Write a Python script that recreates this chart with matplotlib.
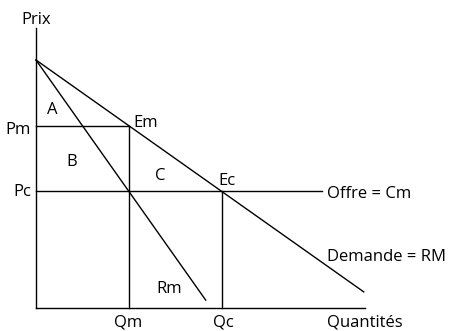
import matplotlib
matplotlib.use("Agg")
import matplotlib.pyplot as plt

plt.rcParams['font.family'] = ['Open Sans', 'DejaVu Sans']

# Market values (arbitrary units)
prix_max = 10.0          # demand intercept
q_max = 14.15            # end of quantity axis
p_max_axis = 11.3        # top of price axis
demande_q = [0, 14.1]
demande_p = [10, 0.65]
rm_q = [0, 7.3]
rm_p = [10, 0.32]
qm, pm = 4.0, 7.35
qc, pc = 8.0, 4.7
offre_q = [0, 12.3]
offre_p = [pc, pc]

fig = plt.figure(figsize=(4.5, 3.31), dpi=100)
ax = fig.add_axes([0, 0, 1, 1])
ax.set_xlim(-1.548, 17.81)
ax.set_ylim(-0.927, 12.42)
ax.axis('off')

lw = 1.0
# axes
ax.plot([0, 0], [0, p_max_axis], color='black', lw=lw)
ax.plot([0, q_max], [0, 0], color='black', lw=lw)

# curves
ax.plot(demande_q, demande_p, color='black', lw=lw)
ax.plot(rm_q, rm_p, color='black', lw=lw)
ax.plot(offre_q, offre_p, color='black', lw=lw)

# monopoly and competition guides
ax.plot([0, qm], [pm, pm], color='black', lw=lw)
ax.plot([qm, qm], [0, pm], color='black', lw=lw)
ax.plot([qc, qc], [0, pc], color='black', lw=lw)

fs = 12
dy = -0.12  # va='center' sits a little high with this font
ax.text(0, 11.75 + dy, 'Prix', ha='center', va='center', fontsize=fs)
ax.text(-0.22, pm - 0.05 + dy, 'Pm', ha='right', va='center', fontsize=fs)
ax.text(-0.22, pc + 0.1 + dy, 'Pc', ha='right', va='center', fontsize=fs)
ax.text(0.7, 8.1 + dy, 'A', ha='center', va='center', fontsize=fs)
ax.text(1.55, 6.0 + dy, 'B', ha='center', va='center', fontsize=fs)
ax.text(5.33, 5.45 + dy, 'C', ha='center', va='center', fontsize=fs)
ax.text(qm + 0.2, pm + 0.25 + dy, 'Em', ha='left', va='center', fontsize=fs)
ax.text(qc - 0.15, pc + 0.55 + dy, 'Ec', ha='left', va='center', fontsize=fs)
ax.text(offre_q[1] + 0.2, pc + dy, 'Offre = Cm', ha='left', va='center', fontsize=fs)
ax.text(5.75, 0.9 + dy, 'Rm', ha='center', va='center', fontsize=fs)
ax.text(12.5, 2.18 + dy, 'Demande = RM', ha='left', va='center', fontsize=fs)

# bottom row sits close to the edge
yb = -0.58
ax.text(qm - 0.05, yb, 'Qm', ha='center', va='center', fontsize=fs)
ax.text(qc + 0.05, yb, 'Qc', ha='center', va='center', fontsize=fs)
ax.text(12.5, yb, 'Quantités', ha='left', va='center', fontsize=fs)

fig.savefig('out.png', dpi=100)
